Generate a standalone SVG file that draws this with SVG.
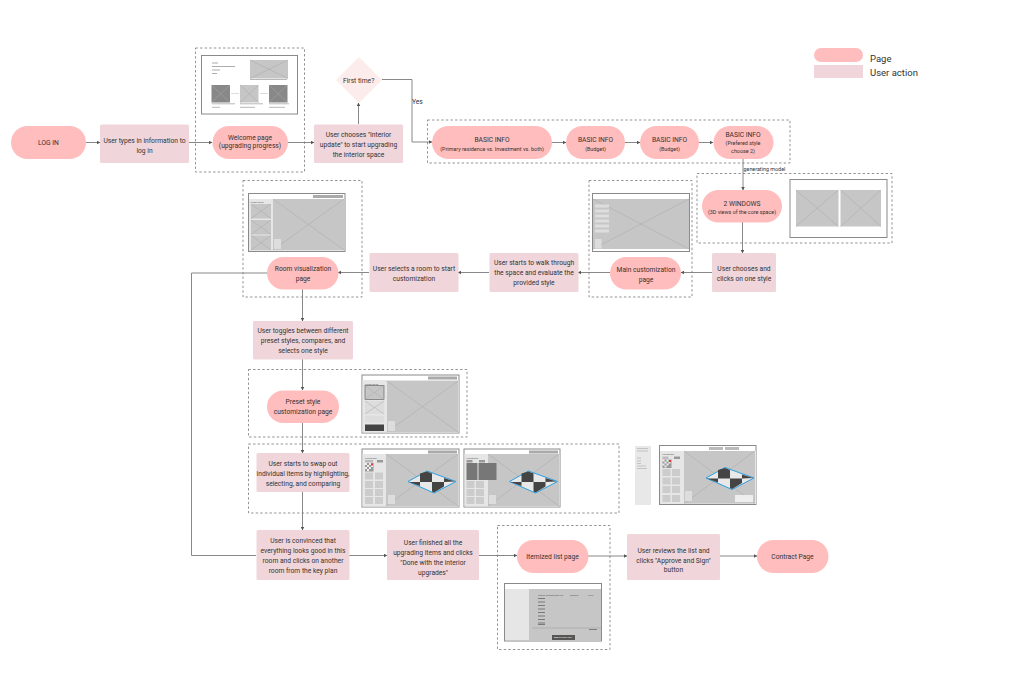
<svg xmlns="http://www.w3.org/2000/svg" xmlns:xlink="http://www.w3.org/1999/xlink" width="1029" height="681" viewBox="0 0 1029 681">
<style>
text{font-family:Roboto,"Liberation Sans",sans-serif;font-size:6.7px;fill:#333;text-anchor:middle}
.s{font-size:5.4px}
.t{font-size:2.3px;text-anchor:start;fill:#555}
.leg{font-size:9.5px;text-anchor:start;fill:#333}
.y{font-size:6.7px;text-anchor:start}
.g{font-size:5.4px;text-anchor:start}
.p{fill:#ffbdbd}
.a{fill:#f0d6db}
.d{fill:none;stroke:#777;stroke-width:.8;stroke-dasharray:2.4 2.2}
.w{fill:#fff;stroke:#8a8a8a;stroke-width:1}
.ph{fill:#c6c6c6}
.x{stroke:#a8a8a8;stroke-width:.5;fill:none}
.l{fill:none;stroke:#7b7b7b;stroke-width:.9;marker-end:url(#ah)}
.n{fill:none;stroke:#7b7b7b;stroke-width:.9}
.dk{fill:#444}
.lg{fill:#e8e8e8}
.c{fill:#ccc}
.m{fill:#ddd}
</style>
<defs>
<marker id="ah" markerWidth="4" markerHeight="4" refX="3.4" refY="2" orient="auto" markerUnits="userSpaceOnUse"><path d="M0 0L3.6 2L0 4Z" fill="#555"/></marker>
<g id="tile">
<path d="M408 481.500L427 471 456 481.500 434 493Z" fill="#e8e8e8" stroke="#2a9fe0" stroke-width="1"/>
<path d="M420 473.500L427 471.500 432 473.500V482H420ZM432 482H444V486.500L434 492.500 432 491.500ZM444 478L455 481.500 444 482ZM409 482H420V486Z" fill="#444"/>
</g>
</defs>
<rect width="1029" height="681" fill="#fff"/>

<g id="frames">
<rect class="d" x="195.500" y="48" width="109" height="124"/>
<rect class="d" x="427.500" y="120" width="362.500" height="43"/>
<rect class="d" x="697" y="173.500" width="195" height="69.500"/>
<rect class="d" x="589" y="180.500" width="103" height="116.500"/>
<rect class="d" x="243" y="180.500" width="119" height="116.500"/>
<rect class="d" x="248.500" y="369.500" width="218.500" height="67.500"/>
<rect class="d" x="248.500" y="444" width="370.500" height="69"/>
<rect class="d" x="497.500" y="525.500" width="112.500" height="124"/>
</g>

<g id="connectors">
<path class="l" d="M86 142.500H100"/>
<path class="l" d="M189 142.500H212"/>
<path class="l" d="M288 142.500H314"/>
<path class="l" d="M358.500 124V103"/>
<path class="l" d="M382 79.500H412V142H432"/>
<path class="l" d="M552 142.500H566"/>
<path class="l" d="M625 142.500H640"/>
<path class="l" d="M699 142.500H713"/>
<path class="l" d="M743 159V190"/>
<path class="l" d="M742.500 222V253"/>
<path class="l" d="M712 272.500H681"/>
<path class="l" d="M610 272.500H578"/>
<path class="l" d="M489 272.500H458"/>
<path class="l" d="M369 272.500H338"/>
<path class="l" d="M302.500 289V321"/>
<path class="l" d="M302.500 359V390"/>
<path class="l" d="M302.500 423V453"/>
<path class="l" d="M302.500 492V530"/>
<path class="l" d="M349 555.500H387"/>
<path class="l" d="M479 555.500H517"/>
<path class="l" d="M588 556H627"/>
<path class="l" d="M720 556H757"/>
<path class="n" d="M267 273H191.500V555.500H256"/>
</g>

<g id="login"><rect class="p" x="11" y="126" width="75" height="33" rx="16.500"/><text x="48.500" y="145">LOG IN</text></g>
<g id="types"><rect class="a" x="100" y="124.500" width="89" height="38.500" rx="1.500"/><text x="144.500" y="142.500">User types in information to</text><text x="144.500" y="152.500">log in</text></g>
<g id="welcome"><rect class="p" x="212.500" y="126" width="75.500" height="33" rx="16.500"/><text x="250" y="139.800">Welcome page</text><text x="250" y="147.800">(upgrading progress)</text></g>
<g id="chooses"><rect class="a" x="314" y="124.500" width="89" height="38.500" rx="1.500"/><text x="358.500" y="136.800">User chooses "Interior</text><text x="358.500" y="146.800">update" to start upgrading</text><text x="358.500" y="156.800">the interior space</text></g>
<g id="first"><path d="M359 57L382 80 359 103 336 80Z" fill="#fdecec"/><text x="358.700" y="82.500">First time?</text></g>
<text class="y" x="412" y="104">Yes</text>

<g id="b1"><rect class="p" x="432" y="126" width="120" height="33" rx="16.500"/><text x="492" y="142">BASIC INFO</text><text class="s" x="492" y="150.500">(Primary residence vs. Investment vs. both)</text></g>
<g id="b2"><rect class="p" x="566" y="126" width="59" height="33" rx="16.500"/><text x="595.500" y="142">BASIC INFO</text><text class="s" x="595.500" y="150.500">(Budget)</text></g>
<g id="b3"><rect class="p" x="640" y="126" width="59" height="33" rx="16.500"/><text x="669.500" y="142">BASIC INFO</text><text class="s" x="669.500" y="150.500">(Budget)</text></g>
<g id="b4"><rect class="p" x="713.500" y="126" width="60" height="33" rx="16.500"/><text x="743" y="136.500">BASIC INFO</text><text class="s" x="743" y="145">(Prefered style</text><text class="s" x="743" y="153">choose 2)</text></g>
<text class="g" x="743.500" y="170.500">generating model</text>

<g id="windows"><rect class="p" x="702" y="190" width="80" height="32.500" rx="16.250"/><text x="742" y="205.500">2 WINDOWS</text><text class="s" x="742" y="213.500">(3D views of the core space)</text></g>
<g id="win-shot"><rect class="w" x="790" y="179.500" width="97" height="58"/>
<rect class="ph" x="796" y="190" width="42.500" height="36.500"/><path class="x" d="M796 190L838.500 226.500M838.500 190L796 226.500"/>
<rect class="ph" x="840.500" y="190" width="40.500" height="36.500"/><path class="x" d="M840.500 190L881 226.500M881 190L840.500 226.500"/></g>

<g id="style"><rect class="a" x="712" y="253" width="64" height="39" rx="1.500"/><text x="744" y="270.500">User chooses and</text><text x="744" y="280.500">clicks on one style</text></g>
<g id="main"><rect class="p" x="610" y="257" width="71" height="32.500" rx="16.250"/><text x="646" y="271.500">Main customization</text><text x="646" y="281.500">page</text></g>
<g id="main-shot"><rect class="w" x="592.500" y="193.500" width="97" height="58"/>
<rect class="ph" x="593" y="199" width="96" height="50"/><path class="x" d="M593 199L689 249M689 199L593 249"/>
<rect class="m" x="595" y="204.500" width="14" height="3"/><rect class="m" x="595" y="209.500" width="14" height="3"/><rect class="m" x="595" y="214.500" width="14" height="3"/><rect class="m" x="595" y="219.500" width="14" height="3"/><rect class="m" x="595" y="224.500" width="14" height="3"/><rect class="m" x="595" y="229.500" width="14" height="3"/>
<rect class="m" x="595" y="239" width="6.500" height="9.500"/></g>

<g id="walk"><rect class="a" x="489.500" y="253" width="89" height="39" rx="1.500"/><text x="534" y="264.800">User starts to walk through</text><text x="534" y="274.800">the space and evaluate the</text><text x="534" y="284.800">provided style</text></g>
<g id="selects"><rect class="a" x="369.500" y="253" width="89" height="39" rx="1.500"/><text x="414" y="270.500">User selects a room to start</text><text x="414" y="280.500">customization</text></g>
<g id="room"><rect class="p" x="267" y="257" width="71.500" height="32.500" rx="16.250"/><text x="303" y="270.500">Room visualization</text><text x="303" y="280.500">page</text></g>
<g id="room-shot"><rect class="w" x="248.500" y="193.500" width="96.500" height="58"/>
<rect x="249" y="199" width="95" height="52" fill="#e6e6e6"/><rect class="ph" x="273" y="199" width="71" height="51"/><path class="x" d="M273 199L344 250M344 199L273 250"/>
<rect x="313" y="195" width="30" height="3" fill="#aaa"/>
<text class="t" x="250.500" y="203">Preset styles</text>
<rect class="ph" x="251" y="204" width="20" height="14.500"/><path class="x" d="M251 204L271 218.500M271 204L251 218.500"/>
<rect class="ph" x="251" y="220" width="20" height="14.500"/><path class="x" d="M251 220L271 234.500M271 220L251 234.500"/>
<rect class="ph" x="251" y="235.500" width="20" height="14.500"/><path class="x" d="M251 235.500L271 250M271 235.500L251 250"/>
<rect class="m" x="274" y="239" width="7" height="10"/></g>

<g id="toggles"><rect class="a" x="253" y="321" width="100" height="38.500" rx="1.500"/><text x="303" y="333">User toggles between different</text><text x="303" y="343">preset styles, compares, and</text><text x="303" y="353">selects one style</text></g>
<g id="preset"><rect class="p" x="267" y="390.500" width="72" height="32.500" rx="16.250"/><text x="303" y="404">Preset style</text><text x="303" y="414">customization page</text></g>
<g id="preset-shot"><rect class="w" x="362" y="375" width="97" height="58"/>
<rect x="362.500" y="380" width="96" height="52.500" fill="#e6e6e6"/><rect class="ph" x="387" y="381" width="71" height="51"/><path class="x" d="M387 381L458 432M458 381L387 432"/>
<rect x="428" y="376.500" width="29" height="3" fill="#aaa"/>
<text class="t" x="365" y="384.500">Preset styles</text>
<rect class="ph" x="365" y="385.500" width="19" height="14" stroke="#555" stroke-width=".6"/><path class="x" d="M365 385.500L384 399.500M384 385.500L365 399.500"/>
<rect class="m" x="365" y="401" width="19" height="13"/><path class="x" d="M365 401L384 414M384 401L365 414"/>
<rect class="m" x="365" y="415.500" width="19" height="7"/>
<rect class="dk" x="365" y="424.500" width="19" height="6.500"/>
<rect class="m" x="388" y="421" width="7" height="10"/></g>

<g id="swap"><rect class="a" x="256.500" y="453" width="93" height="39" rx="1.500"/><text x="303" y="466">User starts to swap out</text><text x="303" y="476">individual items by highlighting,</text><text x="303" y="486">selecting, and comparing</text></g>

<g id="swap-shot-1"><rect class="w" x="362" y="449" width="97" height="58"/>
<rect x="362.500" y="454" width="96" height="52.500" fill="#e6e6e6"/><rect class="ph" x="386" y="454" width="72" height="52"/><path class="x" d="M386 454L458 506M458 454L386 506"/>
<rect x="428" y="450.500" width="29" height="3" fill="#aaa"/>
<use href="#tile"/>
<text class="t" x="365" y="458.500">Countertop</text>
<rect x="365" y="460" width="8" height="2.500" fill="#bbb"/><rect x="377" y="460" width="6" height="2.500" fill="#999"/>
<rect x="365" y="463" width="8.500" height="8.500" fill="#999"/><path d="M365 463h2v2h-2zM369 463h2v2h-2zM367 465h2v2h-2zM371 465h2v2h-2zM365 467h2v2h-2zM369 467h2v2h-2zM367 469h2v2h-2z" fill="#eee"/><rect x="371" y="463.500" width="2" height="2" fill="#e33"/>
<rect class="c" x="365" y="472.500" width="8" height="7"/><rect class="c" x="375" y="472.500" width="8" height="7"/>
<rect class="c" x="365" y="481" width="8" height="7"/><rect class="c" x="375" y="481" width="8" height="7"/>
<rect class="c" x="365" y="489" width="8" height="7"/><rect class="c" x="375" y="489" width="8" height="7"/>
<rect class="c" x="365" y="497" width="8" height="7"/><rect class="c" x="375" y="497" width="8" height="7"/>
<rect class="m" x="388" y="495" width="7" height="9"/></g>

<g id="swap-shot-2"><rect class="w" x="464" y="449" width="96" height="58"/>
<rect x="464.500" y="454" width="95" height="52.500" fill="#e6e6e6"/><rect class="ph" x="488" y="454" width="71" height="52"/><path class="x" d="M488 454L559 506M559 454L488 506"/>
<rect x="529" y="450.500" width="29" height="3" fill="#aaa"/>
<use href="#tile" x="101.500"/>
<text class="t" x="466.500" y="458.500">Countertop</text>
<rect x="466.500" y="460" width="6" height="2.500" fill="#999"/><rect x="479" y="460" width="6" height="2.500" fill="#999"/>
<rect x="466.500" y="463" width="11" height="17" fill="#777"/><rect x="478.500" y="463" width="18" height="17" fill="#777"/>
<rect class="c" x="466.500" y="481" width="8" height="7"/><rect class="c" x="476" y="481" width="8" height="7"/>
<rect class="c" x="466.500" y="489" width="8" height="7"/><rect class="c" x="476" y="489" width="8" height="7"/>
<rect class="c" x="466.500" y="497" width="8" height="7"/><rect class="c" x="476" y="497" width="8" height="7"/>
<rect class="m" x="489" y="495" width="7" height="9"/></g>

<g id="side-panel"><rect class="lg" x="635" y="446" width="16" height="59"/><path d="M637 448.500H648M637 451H648M637 458H641M637 461H641M637 463.500H641M637 466H646M637 468.500H647" stroke="#aaa" stroke-width=".6"/></g>
<g id="side-shot"><rect class="w" x="659.500" y="445.500" width="96.500" height="59"/>
<rect x="660" y="451" width="96" height="53" fill="#e6e6e6"/><rect class="ph" x="684" y="451" width="71" height="52.500"/><path class="x" d="M684 451L755 503.500M755 451L684 503.500"/>
<rect x="709" y="447" width="14" height="3" fill="#bbb"/><rect x="725" y="447" width="14" height="3" fill="#bbb"/>
<use href="#tile" x="298" y="-3.500"/>
<text class="t" x="662.500" y="455">Countertop</text>
<rect x="662.500" y="456.500" width="6" height="2.500" fill="#bbb"/><rect x="674" y="456.500" width="6" height="2.500" fill="#999"/>
<rect x="662.500" y="459.500" width="9" height="8.500" fill="#999"/><path d="M662.500 459.500h2v2h-2zM666.500 459.500h2v2h-2zM664.500 461.500h2v2h-2zM668.500 461.500h2v2h-2zM662.500 463.500h2v2h-2zM666.500 463.500h2v2h-2zM664.500 465.500h2v2h-2z" fill="#eee"/><rect x="669" y="460" width="2" height="2" fill="#e33"/>
<rect class="c" x="662.500" y="469" width="8" height="7"/><rect class="c" x="672" y="469" width="8" height="7"/>
<rect class="c" x="662.500" y="477.500" width="8" height="7"/><rect class="c" x="672" y="477.500" width="8" height="7"/>
<rect class="c" x="662.500" y="486" width="8" height="7"/><rect class="c" x="672" y="486" width="8" height="7"/>
<rect class="c" x="662.500" y="495" width="8" height="7"/><rect class="c" x="672" y="495" width="8" height="7"/>
<rect class="m" x="685" y="491" width="7" height="10"/>
<rect x="735" y="495" width="18" height="7" fill="#eee"/></g>

<g id="convinced"><rect class="a" x="256.500" y="530" width="93" height="50" rx="1.500"/><text x="303" y="542.500">User is convinced that</text><text x="303" y="552.500">everything looks good in this</text><text x="303" y="562.500">room and clicks on another</text><text x="303" y="572.500">room from the key plan</text></g>
<g id="finished"><rect class="a" x="387" y="530" width="92" height="50" rx="1.500"/><text x="433" y="544.500">User finished all the</text><text x="433" y="554.500">upgrading items and clicks</text><text x="433" y="564.500">"Done with the interior</text><text x="433" y="574.500">upgrades"</text></g>
<g id="itemized"><rect class="p" x="517" y="540" width="71.500" height="33" rx="16.500"/><text x="552.500" y="559">Itemized list page</text></g>
<g id="itemized-shot"><rect class="w" x="504.500" y="583.500" width="97" height="57.500"/>
<rect x="505" y="589" width="24" height="51" fill="#e6e6e6"/><rect class="ph" x="529" y="589" width="72" height="51"/>
<text class="t" x="538" y="595.500">Interior upgrade item list</text><text class="t" x="570" y="595.500">Quantity</text><text class="t" x="588" y="595.500">Price</text>
<rect x="552" y="635" width="23" height="5" fill="#555"/><text class="t" x="554" y="638.200" fill="#eee" style="fill:#eee">Approve and sign</text>
<path d="M538 598.500H545M538 602H545M538 605.500H545M538 609H545M538 612.500H545M538 616H545M538 619.500H545M538 623H545M538 624.500H545" stroke="#666" stroke-width=".8"/>
<path d="M532 628H601" stroke="#999" stroke-width=".5"/><path d="M589 629.500H597" stroke="#666" stroke-width=".8"/></g>
<g id="reviews"><rect class="a" x="627" y="534" width="93" height="46" rx="1.500"/><text x="673.500" y="552.500">User reviews the list and</text><text x="673.500" y="562.500">clicks "Approve and Sign"</text><text x="673.500" y="572">button</text></g>
<g id="contract"><rect class="p" x="757" y="540" width="71.500" height="33" rx="16.500"/><text x="792.500" y="559">Contract Page</text></g>

<g id="welcome-shot"><rect class="w" x="201.500" y="55.500" width="96" height="58.500"/>
<rect class="ph" x="250" y="60" width="38" height="18.500"/><path class="x" d="M250 60L288 78.500M288 60L250 78.500"/>
<path d="M212 63H218M212 66.500H235M212 70H220M212 73.500H217" stroke="#888" stroke-width=".7"/>
<path d="M250 79.500H287" stroke="#888" stroke-width=".6"/>
<rect x="211.500" y="85" width="18.500" height="17.500" fill="#888"/><path class="x" d="M211.500 85L230 102.500M230 85L211.500 102.500"/>
<rect x="240" y="85" width="18.500" height="17.500" class="ph"/><path class="x" d="M240 85L258.500 102.500M258.500 85L240 102.500"/>
<rect x="269" y="85" width="18.500" height="17.500" fill="#888"/><path class="x" d="M269 85L287.500 102.500M287.500 85L269 102.500"/>
<path d="M231 93.500H239M260 93.500H268" stroke="#bbb" stroke-width=".5"/>
<path d="M212 103.800H235M212 107.300H220M240 103.800H263M240 107.300H255M269 103.800H289M269 107.300H285" stroke="#888" stroke-width=".6"/></g>

<g id="legend"><rect class="p" x="814" y="48" width="49" height="14" rx="7"/><rect class="a" x="814" y="65" width="49" height="13"/><text class="leg" x="870" y="61.500">Page</text><text class="leg" x="870" y="75.500">User action</text></g>
</svg>
